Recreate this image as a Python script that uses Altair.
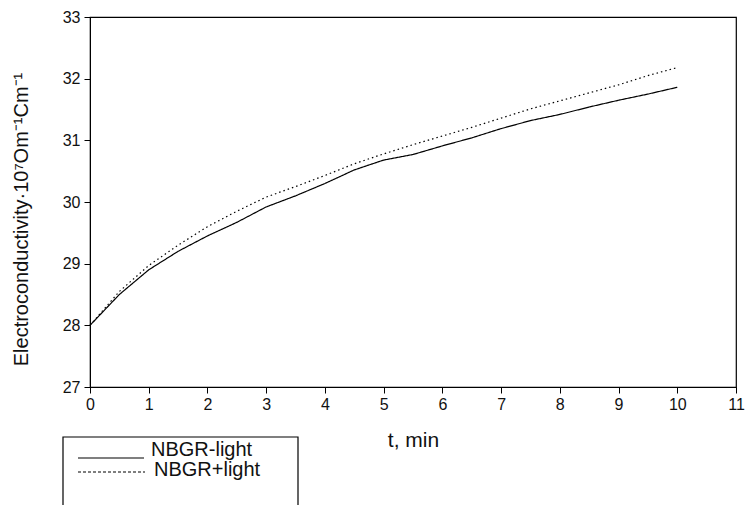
import altair as alt
import pandas as pd

# Time axis, minutes
t_min = [0.0, 0.5, 1.0, 1.5, 2.0, 2.5, 3.0, 3.5, 4.0, 4.5, 5.0,
         5.5, 6.0, 6.5, 7.0, 7.5, 8.0, 8.5, 9.0, 9.5, 10.0]

# Electroconductivity, 10^-7 Om^-1 Cm^-1
nbgr_dark = [28.00, 28.50, 28.90, 29.20, 29.45, 29.67, 29.92, 30.10, 30.30, 30.52, 30.68,
             30.77, 30.91, 31.04, 31.19, 31.32, 31.42, 31.54, 31.65, 31.75, 31.86]
nbgr_light = [28.00, 28.55, 28.97, 29.30, 29.60, 29.85, 30.08, 30.25, 30.43, 30.62, 30.78,
              30.93, 31.07, 31.21, 31.36, 31.51, 31.64, 31.77, 31.90, 32.05, 32.18]

series_names = ["NBGR-light", "NBGR+light"]
x_ticks = list(range(0, 12))
y_ticks = list(range(27, 34))

rows = []
for name, vals in zip(series_names, [nbgr_dark, nbgr_light]):
    for t, v in zip(t_min, vals):
        rows.append({"t": t, "value": v, "series": name})
df = pd.DataFrame(rows)

FONT = "Liberation Sans"
INK = "#111111"

W, H = 646, 370
LEFT, TOP = 90, 17

lines = alt.Chart(df).mark_line(color="black", strokeWidth=1.2).encode(
    x=alt.X("t:Q",
            scale=alt.Scale(domain=[0, 11], nice=False, zero=False),
            axis=alt.Axis(values=x_ticks, title="t, min", format="d",
                          grid=False, domainColor="black", tickColor="black",
                          tickSize=6, labelPadding=3, labelFlush=False,
                          labelFont=FONT, labelFontSize=16, labelColor=INK,
                          titleFont=FONT, titleFontSize=21,
                          titleFontWeight="normal", titleColor=INK,
                          titleY=53, titleBaseline="middle")),
    y=alt.Y("value:Q",
            scale=alt.Scale(domain=[27, 33], nice=False, zero=False),
            axis=alt.Axis(values=y_ticks, format="d",
                          title="Electroconductivity·10⁷Om⁻¹Cm⁻¹",
                          grid=False, domainColor="black", tickColor="black",
                          tickSize=6, labelPadding=4, labelFlush=False,
                          labelFont=FONT, labelFontSize=16, labelColor=INK,
                          titleFont=FONT, titleFontSize=20,
                          titleFontWeight="normal", titleColor=INK,
                          titleX=-69, titleY=202, titleAngle=-90,
                          titleAlign="center", titleBaseline="middle")),
    strokeDash=alt.StrokeDash("series:N",
                              scale=alt.Scale(domain=series_names,
                                              range=[[1, 0], [1.5, 3]]),
                              legend=None),
    detail="series:N",
)

# Hand-drawn key box below the plot
one = alt.Data(values=[{}])
key_box = alt.Chart(one).mark_rect(fill="white", stroke="black",
                                   strokeWidth=1.2, clip=False).encode(
    x=alt.value(63 - LEFT), x2=alt.value(298 - LEFT),
    y=alt.value(437 - TOP), y2=alt.value(540 - TOP),
)
key_solid = alt.Chart(one).mark_rule(color="black", strokeWidth=1.2).encode(
    x=alt.value(78 - LEFT), x2=alt.value(144 - LEFT), y=alt.value(458 - TOP),
)
key_dash = alt.Chart(one).mark_rule(color="black", strokeWidth=1.1,
                                    strokeDash=[3, 2]).encode(
    x=alt.value(78 - LEFT), x2=alt.value(145 - LEFT), y=alt.value(472 - TOP),
)
key_text1 = alt.Chart(one).mark_text(font=FONT, fontSize=20, color=INK,
                                     align="left", baseline="middle").encode(
    x=alt.value(151 - LEFT), y=alt.value(450 - TOP),
    text=alt.value(series_names[0]),
)
key_text2 = alt.Chart(one).mark_text(font=FONT, fontSize=20, color=INK,
                                     align="left", baseline="middle").encode(
    x=alt.value(154 - LEFT), y=alt.value(470 - TOP),
    text=alt.value(series_names[1]),
)

chart = alt.layer(lines, key_box, key_solid, key_dash, key_text1, key_text2).properties(
    width=W, height=H,
    autosize=alt.AutoSizeParams(type="none"),
    padding={"left": LEFT, "top": TOP, "right": 747 - LEFT - W, "bottom": 505 - TOP - H},
    background="white",
).configure_view(stroke="black", strokeWidth=1.2)

chart.save("out.html", embed_options={"renderer": "svg", "actions": False})
